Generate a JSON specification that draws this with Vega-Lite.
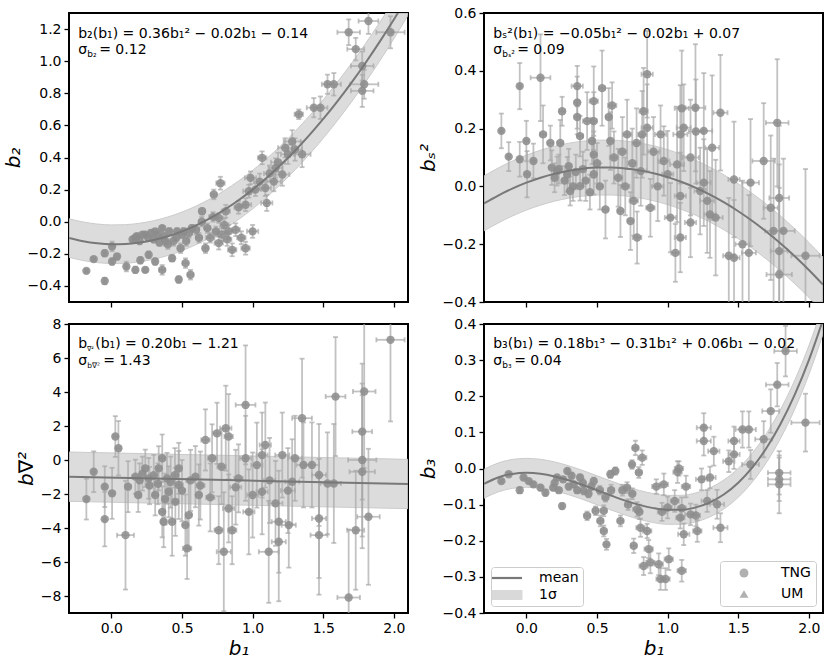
{
"$schema": "https://vega.github.io/schema/vega-lite/v6.json",
"padding": {"left": 2, "top": 5, "right": 5, "bottom": 5},
"columns": 2,
"spacing": {"row": 22, "column": 76},
"bounds": "flush",
"resolve": {"scale": {"color": "independent", "shape": "independent"}},
"config": {
  "font": "DejaVu Sans",
  "view": {"stroke": "black", "strokeWidth": 2},
  "axis": {"grid": false, "domain": false, "tickColor": "black", "tickSize": 5, "tickWidth": 1.3, "labelFont": "DejaVu Sans", "labelFontSize": 14, "labelColor": "black", "labelPadding": 3, "labelFlush": false, "labelOverlap": false, "labelBound": false, "titleFont": "DejaVu Sans", "titleFontSize": 20, "titleFontWeight": "normal", "titleFontStyle": "italic", "titleColor": "black", "titlePadding": 4}
},
"concat": [
{
 "width": 339, "height": 289,
 "layer": [
  {"data": {"name": "tl"},
   "encoding": {
    "x": {"field": "x", "type": "quantitative", "scale": {"domain": [-0.3, 2.1], "nice": false, "zero": false}, "axis": {"values": [0, 0.5, 1, 1.5, 2], "labels": false, "title": null}},
    "y": {"field": "y", "type": "quantitative", "scale": {"domain": [-0.5, 1.3], "nice": false, "zero": false}, "axis": {"values": [-0.4, -0.2, 0, 0.2, 0.4, 0.6, 0.8, 1.0, 1.2], "format": ".1f", "title": "b₂"}}},
   "layer": [
    {"data": {"name": "ctl"}, "mark": {"type": "area", "color": "#d9d9d9", "opacity": 0.9, "stroke": "#c6c6c6", "strokeWidth": 1, "clip": true, "interpolate": "monotone"}, "encoding": {"y": {"field": "lo", "type": "quantitative"}, "y2": {"field": "hi"}}},
    {"mark": {"type": "errorbar", "ticks": true, "size": 5, "thickness": 1.8, "color": "#a8a8a8", "opacity": 0.7, "clip": true}, "encoding": {"yError": {"field": "ey"}}},
    {"mark": {"type": "errorbar", "ticks": true, "size": 5, "thickness": 1.8, "color": "#a8a8a8", "opacity": 0.7, "clip": true}, "encoding": {"xError": {"field": "ex"}}},
    {"mark": {"type": "point", "filled": true, "color": "#8c8c8c", "opacity": 0.85, "size": 70, "clip": true}},
    {"data": {"name": "ctl"}, "mark": {"type": "line", "color": "#787878", "strokeWidth": 2, "clip": true, "interpolate": "monotone"}}
   ]},
  {"data": {"name": "ntl"},
   "encoding": {
    "x": {"datum": -0.235, "type": "quantitative", "scale": {"domain": [-0.3, 2.1], "nice": false, "zero": false}, "axis": {"values": [0, 0.5, 1, 1.5, 2], "labels": false, "title": null}},
    "y": {"datum": 1.146, "type": "quantitative", "scale": {"domain": [-0.5, 1.3], "nice": false, "zero": false}, "axis": {"values": [-0.4, -0.2, 0, 0.2, 0.4, 0.6, 0.8, 1.0, 1.2], "format": ".1f", "title": "b₂"}}},
   "layer": [
    {"mark": {"type": "text", "font": "DejaVu Sans", "align": "left", "baseline": "alphabetic", "fontSize": 14, "color": "black"}, "encoding": {"text": {"field": "eq"}}},
    {"mark": {"type": "text", "font": "DejaVu Sans", "align": "left", "baseline": "alphabetic", "fontSize": 14, "color": "black"}, "encoding": {"y": {"datum": 1.043}, "text": {"field": "sig"}}},
    {"mark": {"type": "text", "font": "DejaVu Sans", "align": "left", "baseline": "alphabetic", "fontSize": 9, "dx": 9, "dy": 3, "color": "black"}, "encoding": {"y": {"datum": 1.043}, "text": {"field": "sub"}}},
    {"mark": {"type": "text", "font": "DejaVu Sans", "align": "left", "baseline": "alphabetic", "fontSize": 14, "dx": 21, "color": "black"}, "encoding": {"y": {"datum": 1.043}, "text": {"field": "val"}}}
   ]}
 ]
},
{
 "width": 339, "height": 289,
 "layer": [
  {"data": {"name": "tr"},
   "encoding": {
    "x": {"field": "x", "type": "quantitative", "scale": {"domain": [-0.3, 2.1], "nice": false, "zero": false}, "axis": {"values": [0, 0.5, 1, 1.5, 2], "labels": false, "title": null}},
    "y": {"field": "y", "type": "quantitative", "scale": {"domain": [-0.4, 0.6], "nice": false, "zero": false}, "axis": {"values": [-0.4, -0.2, 0, 0.2, 0.4, 0.6], "format": ".1f", "title": "bₛ²"}}},
   "layer": [
    {"data": {"name": "ctr"}, "mark": {"type": "area", "color": "#d9d9d9", "opacity": 0.9, "stroke": "#c6c6c6", "strokeWidth": 1, "clip": true, "interpolate": "monotone"}, "encoding": {"y": {"field": "lo", "type": "quantitative"}, "y2": {"field": "hi"}}},
    {"mark": {"type": "errorbar", "ticks": true, "size": 5, "thickness": 1.8, "color": "#a8a8a8", "opacity": 0.7, "clip": true}, "encoding": {"yError": {"field": "ey"}}},
    {"mark": {"type": "errorbar", "ticks": true, "size": 5, "thickness": 1.8, "color": "#a8a8a8", "opacity": 0.7, "clip": true}, "encoding": {"xError": {"field": "ex"}}},
    {"mark": {"type": "point", "filled": true, "color": "#8c8c8c", "opacity": 0.85, "size": 70, "clip": true}},
    {"data": {"name": "ctr"}, "mark": {"type": "line", "color": "#787878", "strokeWidth": 2, "clip": true, "interpolate": "monotone"}}
   ]},
  {"data": {"name": "ntr"},
   "encoding": {
    "x": {"datum": -0.235, "type": "quantitative", "scale": {"domain": [-0.3, 2.1], "nice": false, "zero": false}, "axis": {"values": [0, 0.5, 1, 1.5, 2], "labels": false, "title": null}},
    "y": {"datum": 0.5145, "type": "quantitative", "scale": {"domain": [-0.4, 0.6], "nice": false, "zero": false}, "axis": {"values": [-0.4, -0.2, 0, 0.2, 0.4, 0.6], "format": ".1f", "title": "bₛ²"}}},
   "layer": [
    {"mark": {"type": "text", "font": "DejaVu Sans", "align": "left", "baseline": "alphabetic", "fontSize": 14, "color": "black"}, "encoding": {"text": {"field": "eq"}}},
    {"mark": {"type": "text", "font": "DejaVu Sans", "align": "left", "baseline": "alphabetic", "fontSize": 14, "color": "black"}, "encoding": {"y": {"datum": 0.457}, "text": {"field": "sig"}}},
    {"mark": {"type": "text", "font": "DejaVu Sans", "align": "left", "baseline": "alphabetic", "fontSize": 9, "dx": 9, "dy": 3, "color": "black"}, "encoding": {"y": {"datum": 0.457}, "text": {"field": "sub"}}},
    {"mark": {"type": "text", "font": "DejaVu Sans", "align": "left", "baseline": "alphabetic", "fontSize": 14, "dx": 24, "color": "black"}, "encoding": {"y": {"datum": 0.457}, "text": {"field": "val"}}}
   ]}
 ]
},
{
 "width": 339, "height": 289,
 "layer": [
  {"data": {"name": "bl"},
   "encoding": {
    "x": {"field": "x", "type": "quantitative", "scale": {"domain": [-0.3, 2.1], "nice": false, "zero": false}, "axis": {"values": [0, 0.5, 1, 1.5, 2], "format": ".1f", "title": "b₁", "titlePadding": 3}},
    "y": {"field": "y", "type": "quantitative", "scale": {"domain": [-9, 8], "nice": false, "zero": false}, "axis": {"values": [-8, -6, -4, -2, 0, 2, 4, 6, 8], "format": "d", "title": "b∇²"}}},
   "layer": [
    {"data": {"name": "cbl"}, "mark": {"type": "area", "color": "#d9d9d9", "opacity": 0.9, "stroke": "#c6c6c6", "strokeWidth": 1, "clip": true}, "encoding": {"y": {"field": "lo", "type": "quantitative"}, "y2": {"field": "hi"}}},
    {"mark": {"type": "errorbar", "ticks": true, "size": 5, "thickness": 1.8, "color": "#a8a8a8", "opacity": 0.7, "clip": true}, "encoding": {"yError": {"field": "ey"}}},
    {"mark": {"type": "errorbar", "ticks": true, "size": 5, "thickness": 1.8, "color": "#a8a8a8", "opacity": 0.7, "clip": true}, "encoding": {"xError": {"field": "ex"}}},
    {"mark": {"type": "point", "filled": true, "color": "#8c8c8c", "opacity": 0.85, "size": 70, "clip": true}},
    {"data": {"name": "cbl"}, "mark": {"type": "line", "color": "#787878", "strokeWidth": 2, "clip": true}}
   ]},
  {"data": {"name": "nbl"},
   "encoding": {
    "x": {"datum": -0.235, "type": "quantitative", "scale": {"domain": [-0.3, 2.1], "nice": false, "zero": false}, "axis": {"values": [0, 0.5, 1, 1.5, 2], "format": ".1f", "title": "b₁", "titlePadding": 3}},
    "y": {"datum": 6.566, "type": "quantitative", "scale": {"domain": [-9, 8], "nice": false, "zero": false}, "axis": {"values": [-8, -6, -4, -2, 0, 2, 4, 6, 8], "format": "d", "title": "b∇²"}}},
   "layer": [
    {"mark": {"type": "text", "font": "DejaVu Sans", "align": "left", "baseline": "alphabetic", "fontSize": 14, "color": "black"}, "encoding": {"text": {"field": "b"}}},
    {"mark": {"type": "text", "font": "DejaVu Sans", "align": "left", "baseline": "alphabetic", "fontSize": 6.5, "dx": 8.8, "dy": 3, "color": "black"}, "encoding": {"text": {"field": "bsub"}}},
    {"mark": {"type": "text", "font": "DejaVu Sans", "align": "left", "baseline": "alphabetic", "fontSize": 14, "dx": 17, "color": "black"}, "encoding": {"text": {"field": "eq"}}},
    {"mark": {"type": "text", "font": "DejaVu Sans", "align": "left", "baseline": "alphabetic", "fontSize": 14, "color": "black"}, "encoding": {"y": {"datum": 5.58}, "text": {"field": "sig"}}},
    {"mark": {"type": "text", "font": "DejaVu Sans", "align": "left", "baseline": "alphabetic", "fontSize": 7.5, "dx": 9, "dy": 3, "color": "black"}, "encoding": {"y": {"datum": 5.58}, "text": {"field": "sub"}}},
    {"mark": {"type": "text", "font": "DejaVu Sans", "align": "left", "baseline": "alphabetic", "fontSize": 14, "dx": 25, "color": "black"}, "encoding": {"y": {"datum": 5.58}, "text": {"field": "val"}}}
   ]}
 ]
},
{
 "width": 339, "height": 289,
 "layer": [
  {"data": {"name": "br"},
   "encoding": {
    "x": {"field": "x", "type": "quantitative", "scale": {"domain": [-0.3, 2.1], "nice": false, "zero": false}, "axis": {"values": [0, 0.5, 1, 1.5, 2], "format": ".1f", "title": "b₁", "titlePadding": 3}},
    "y": {"field": "y", "type": "quantitative", "scale": {"domain": [-0.4, 0.4], "nice": false, "zero": false}, "axis": {"values": [-0.4, -0.3, -0.2, -0.1, 0, 0.1, 0.2, 0.3, 0.4], "format": ".1f", "title": "b₃"}}},
   "layer": [
    {"data": {"name": "cbr"}, "mark": {"type": "area", "opacity": 0.9, "stroke": "#c6c6c6", "strokeWidth": 1, "clip": true, "interpolate": "monotone"},
     "encoding": {"y": {"field": "lo", "type": "quantitative"}, "y2": {"field": "hi"},
      "color": {"datum": "1σ", "type": "nominal", "scale": {"domain": ["mean", "1σ"], "range": ["#787878", "#d9d9d9"]},
        "legend": {"orient": "bottom-left", "title": null, "offset": 7, "padding": 4, "strokeColor": "#cccccc", "fillColor": "rgba(255,255,255,0.8)", "cornerRadius": 3, "symbolSize": 324, "symbolOffset": 5, "labelOffset": 25, "rowPadding": 3, "labelFontSize": 14, "labelFont": "DejaVu Sans", "labelColor": "black",
          "encoding": {"symbols": {
            "shape": {"value": {"expr": "datum.value === 'mean' ? 'M-1.667,0H1.667' : 'M-1.667,-0.5H1.667V0.5H-1.667Z'"}},
            "fill": {"value": {"expr": "datum.value === 'mean' ? 'transparent' : '#d9d9d9'"}},
            "stroke": {"value": {"expr": "datum.value === 'mean' ? '#787878' : '#c6c6c6'"}},
            "strokeWidth": {"value": {"expr": "datum.value === 'mean' ? 2.2 : 1"}},
            "opacity": {"value": 1}}}}}}},
    {"mark": {"type": "errorbar", "ticks": true, "size": 5, "thickness": 1.8, "color": "#a8a8a8", "opacity": 0.7, "clip": true}, "encoding": {"yError": {"field": "ey"}}},
    {"mark": {"type": "errorbar", "ticks": true, "size": 5, "thickness": 1.8, "color": "#a8a8a8", "opacity": 0.7, "clip": true}, "encoding": {"xError": {"field": "ex"}}},
    {"mark": {"type": "point", "filled": true, "color": "#8c8c8c", "opacity": 0.85, "size": 70, "clip": true},
     "encoding": {"shape": {"datum": "TNG", "type": "nominal", "scale": {"domain": ["TNG", "UM"], "range": ["circle", "triangle-up"]},
       "legend": {"orient": "bottom-right", "title": null, "offset": 7, "padding": 5, "strokeColor": "#cccccc", "fillColor": "rgba(255,255,255,0.8)", "cornerRadius": 3, "symbolSize": 80, "symbolOffset": 12, "labelOffset": 30, "rowPadding": 7, "labelFontSize": 14, "labelFont": "DejaVu Sans", "labelColor": "black",
         "encoding": {"symbols": {"fill": {"value": "#b0b0b0"}, "stroke": {"value": "#b0b0b0"}, "strokeWidth": {"value": 0}, "opacity": {"value": 1}}}}}}},
    {"data": {"name": "cbr"}, "mark": {"type": "line", "strokeWidth": 2, "clip": true, "interpolate": "monotone"}, "encoding": {"color": {"datum": "mean", "type": "nominal"}}}
   ]},
  {"data": {"name": "nbr"},
   "encoding": {
    "x": {"datum": -0.235, "type": "quantitative", "scale": {"domain": [-0.3, 2.1], "nice": false, "zero": false}, "axis": {"values": [0, 0.5, 1, 1.5, 2], "format": ".1f", "title": "b₁", "titlePadding": 3}},
    "y": {"datum": 0.3325, "type": "quantitative", "scale": {"domain": [-0.4, 0.4], "nice": false, "zero": false}, "axis": {"values": [-0.4, -0.3, -0.2, -0.1, 0, 0.1, 0.2, 0.3, 0.4], "format": ".1f", "title": "b₃"}}},
   "layer": [
    {"mark": {"type": "text", "font": "DejaVu Sans", "align": "left", "baseline": "alphabetic", "fontSize": 14, "color": "black"}, "encoding": {"text": {"field": "eq"}}},
    {"mark": {"type": "text", "font": "DejaVu Sans", "align": "left", "baseline": "alphabetic", "fontSize": 14, "color": "black"}, "encoding": {"y": {"datum": 0.286}, "text": {"field": "sig"}}},
    {"mark": {"type": "text", "font": "DejaVu Sans", "align": "left", "baseline": "alphabetic", "fontSize": 9, "dx": 9, "dy": 3, "color": "black"}, "encoding": {"y": {"datum": 0.286}, "text": {"field": "sub"}}},
    {"mark": {"type": "text", "font": "DejaVu Sans", "align": "left", "baseline": "alphabetic", "fontSize": 14, "dx": 21, "color": "black"}, "encoding": {"y": {"datum": 0.286}, "text": {"field": "val"}}}
   ]}
 ]
}
],
"datasets": {
"ntl": [{"eq": "b₂(b₁) = 0.36b₁² − 0.02b₁ − 0.14", "sig": "σ", "sub": "b₂", "val": "= 0.12"}],
"ntr": [{"eq": "bₛ²(b₁) = −0.05b₁² − 0.02b₁ + 0.07", "sig": "σ", "sub": "bₛ²", "val": "= 0.09"}],
"nbl": [{"b": "b", "bsub": "∇²", "eq": "(b₁) = 0.20b₁ − 1.21", "sig": "σ", "sub": "b∇²", "val": "= 1.43"}],
"nbr": [{"eq": "b₃(b₁) = 0.18b₁³ − 0.31b₁² + 0.06b₁ − 0.02", "sig": "σ", "sub": "b₃", "val": "= 0.04"}],
"ctl": [
{"x":-0.3,"y":-0.1016,"lo":-0.2216,"hi":0.0184},{"x":-0.2,"y":-0.1216,"lo":-0.2416,"hi":-0.0016},{"x":-0.1,"y":-0.1344,"lo":-0.2544,"hi":-0.0144},{"x":0.0,"y":-0.14,"lo":-0.26,"hi":-0.02},{"x":0.1,"y":-0.1384,"lo":-0.2584,"hi":-0.0184},{"x":0.2,"y":-0.1296,"lo":-0.2496,"hi":-0.0096},{"x":0.3,"y":-0.1136,"lo":-0.2336,"hi":0.0064},{"x":0.4,"y":-0.0904,"lo":-0.2104,"hi":0.0296},{"x":0.5,"y":-0.06,"lo":-0.18,"hi":0.06},{"x":0.6,"y":-0.0224,"lo":-0.1424,"hi":0.0976},{"x":0.7,"y":0.0224,"lo":-0.0976,"hi":0.1424},{"x":0.8,"y":0.0744,"lo":-0.0456,"hi":0.1944},{"x":0.9,"y":0.1336,"lo":0.0136,"hi":0.2536},{"x":1.0,"y":0.2,"lo":0.08,"hi":0.32},{"x":1.1,"y":0.2736,"lo":0.1536,"hi":0.3936},{"x":1.2,"y":0.3544,"lo":0.2344,"hi":0.4744},{"x":1.3,"y":0.4424,"lo":0.3224,"hi":0.5624},{"x":1.4,"y":0.5376,"lo":0.4176,"hi":0.6576},{"x":1.5,"y":0.64,"lo":0.52,"hi":0.76},{"x":1.6,"y":0.7496,"lo":0.6296,"hi":0.8696},{"x":1.7,"y":0.8664,"lo":0.7464,"hi":0.9864},{"x":1.8,"y":0.9904,"lo":0.8704,"hi":1.1104},{"x":1.9,"y":1.1216,"lo":1.0016,"hi":1.2416},{"x":2.0,"y":1.26,"lo":1.14,"hi":1.38},{"x":2.1,"y":1.4056,"lo":1.2856,"hi":1.5256}
],
"ctr": [
{"x":-0.3,"y":-0.059,"lo":-0.154,"hi":0.036},{"x":-0.2,"y":-0.0316,"lo":-0.1266,"hi":0.0634},{"x":-0.1,"y":-0.0076,"lo":-0.1026,"hi":0.0874},{"x":0.0,"y":0.013,"lo":-0.082,"hi":0.108},{"x":0.1,"y":0.0302,"lo":-0.0648,"hi":0.1252},{"x":0.2,"y":0.044,"lo":-0.051,"hi":0.139},{"x":0.3,"y":0.0544,"lo":-0.0406,"hi":0.1494},{"x":0.4,"y":0.0614,"lo":-0.0336,"hi":0.1564},{"x":0.5,"y":0.065,"lo":-0.03,"hi":0.16},{"x":0.6,"y":0.0652,"lo":-0.0298,"hi":0.1602},{"x":0.7,"y":0.062,"lo":-0.033,"hi":0.157},{"x":0.8,"y":0.0554,"lo":-0.0396,"hi":0.1504},{"x":0.9,"y":0.0454,"lo":-0.0496,"hi":0.1404},{"x":1.0,"y":0.032,"lo":-0.063,"hi":0.127},{"x":1.1,"y":0.0152,"lo":-0.0798,"hi":0.1102},{"x":1.2,"y":-0.005,"lo":-0.1,"hi":0.09},{"x":1.3,"y":-0.0286,"lo":-0.1236,"hi":0.0664},{"x":1.4,"y":-0.0556,"lo":-0.1506,"hi":0.0394},{"x":1.5,"y":-0.086,"lo":-0.181,"hi":0.009},{"x":1.6,"y":-0.1198,"lo":-0.2148,"hi":-0.0248},{"x":1.7,"y":-0.157,"lo":-0.252,"hi":-0.062},{"x":1.8,"y":-0.1976,"lo":-0.2926,"hi":-0.1026},{"x":1.9,"y":-0.2416,"lo":-0.3366,"hi":-0.1466},{"x":2.0,"y":-0.289,"lo":-0.384,"hi":-0.194},{"x":2.1,"y":-0.3398,"lo":-0.4348,"hi":-0.2448}
],
"cbl": [
{"x":-0.3,"y":-0.98,"lo":-2.43,"hi":0.47},{"x":0.3,"y":-1.088,"lo":-2.538,"hi":0.362},{"x":0.9,"y":-1.196,"lo":-2.646,"hi":0.254},{"x":1.5,"y":-1.304,"lo":-2.754,"hi":0.146},{"x":2.1,"y":-1.412,"lo":-2.862,"hi":0.038}
],
"cbr": [
{"x":-0.3,"y":-0.0423,"lo":-0.0823,"hi":-0.0023},{"x":-0.2,"y":-0.0248,"lo":-0.0648,"hi":0.0152},{"x":-0.1,"y":-0.015,"lo":-0.055,"hi":0.025},{"x":0.0,"y":-0.012,"lo":-0.052,"hi":0.028},{"x":0.1,"y":-0.0146,"lo":-0.0546,"hi":0.0254},{"x":0.2,"y":-0.0219,"lo":-0.0619,"hi":0.0181},{"x":0.3,"y":-0.0326,"lo":-0.0726,"hi":0.0074},{"x":0.4,"y":-0.0457,"lo":-0.0857,"hi":-0.0057},{"x":0.5,"y":-0.0602,"lo":-0.1002,"hi":-0.0202},{"x":0.6,"y":-0.0749,"lo":-0.1149,"hi":-0.0349},{"x":0.7,"y":-0.0888,"lo":-0.1288,"hi":-0.0488},{"x":0.8,"y":-0.1007,"lo":-0.1407,"hi":-0.0607},{"x":0.9,"y":-0.1097,"lo":-0.1497,"hi":-0.0697},{"x":1.0,"y":-0.1145,"lo":-0.1545,"hi":-0.0745},{"x":1.1,"y":-0.1142,"lo":-0.1542,"hi":-0.0742},{"x":1.2,"y":-0.1076,"lo":-0.1476,"hi":-0.0676},{"x":1.3,"y":-0.0937,"lo":-0.1337,"hi":-0.0537},{"x":1.4,"y":-0.0714,"lo":-0.1114,"hi":-0.0314},{"x":1.5,"y":-0.0396,"lo":-0.0796,"hi":0.0004},{"x":1.6,"y":0.0029,"lo":-0.0371,"hi":0.0429},{"x":1.7,"y":0.0569,"lo":0.0169,"hi":0.0969},{"x":1.8,"y":0.1238,"lo":0.0838,"hi":0.1638},{"x":1.9,"y":0.2044,"lo":0.1644,"hi":0.2444},{"x":2.0,"y":0.3,"lo":0.26,"hi":0.34},{"x":2.1,"y":0.4116,"lo":0.3716,"hi":0.4516}
],
"tl": [
{"x":-0.177,"ex":0.01,"y":-0.306,"ey":0.01},{"x":-0.125,"ex":0.01,"y":-0.233,"ey":0.01},{"x":-0.047,"ex":0.01,"y":-0.369,"ey":0.02},{"x":-0.047,"ex":0.01,"y":-0.196,"ey":0.02},{"x":0.005,"ex":0.015,"y":-0.154,"ey":0.03},{"x":0.005,"ex":0.01,"y":-0.248,"ey":0.02},{"x":0.04,"ex":0.015,"y":-0.217,"ey":0.02},{"x":0.106,"ex":0.01,"y":-0.279,"ey":0.03},{"x":0.17,"ex":0.015,"y":-0.3,"ey":0.02},{"x":0.17,"ex":0.015,"y":-0.1,"ey":0.015},{"x":0.205,"ex":0.01,"y":-0.24,"ey":0.02},{"x":0.24,"ex":0.015,"y":-0.3,"ey":0.015},{"x":0.264,"ex":0.01,"y":-0.206,"ey":0.02},{"x":0.31,"ex":0.015,"y":-0.248,"ey":0.02},{"x":0.36,"ex":0.02,"y":-0.3,"ey":0.03},{"x":0.24,"ex":0.01,"y":-0.08,"ey":0.015},{"x":0.31,"ex":0.015,"y":-0.06,"ey":0.015},{"x":0.36,"ex":0.015,"y":-0.04,"ey":0.015},{"x":0.38,"ex":0.02,"y":-0.12,"ey":0.03},{"x":0.43,"ex":0.015,"y":-0.227,"ey":0.02},{"x":0.477,"ex":0.015,"y":-0.36,"ey":0.02},{"x":0.49,"ex":0.02,"y":-0.165,"ey":0.03},{"x":0.525,"ex":0.02,"y":-0.258,"ey":0.03},{"x":0.56,"ex":0.02,"y":-0.33,"ey":0.03},{"x":0.465,"ex":0.015,"y":-0.06,"ey":0.02},{"x":0.512,"ex":0.015,"y":-0.06,"ey":0.02},{"x":0.57,"ex":0.02,"y":-0.04,"ey":0.02},{"x":0.642,"ex":0.02,"y":0.065,"ey":0.02},{"x":0.666,"ex":0.02,"y":-0.165,"ey":0.03},{"x":0.725,"ex":0.02,"y":0.17,"ey":0.03},{"x":0.772,"ex":0.03,"y":0.24,"ey":0.04},{"x":0.81,"ex":0.03,"y":0.065,"ey":0.04},{"x":0.76,"ex":0.03,"y":0.023,"ey":0.03},{"x":0.76,"ex":0.03,"y":-0.133,"ey":0.04},{"x":0.83,"ex":0.03,"y":-0.06,"ey":0.04},{"x":0.855,"ex":0.03,"y":-0.175,"ey":0.04},{"x":0.95,"ex":0.03,"y":-0.165,"ey":0.04},{"x":1.0,"ex":0.04,"y":-0.06,"ey":0.04},{"x":0.95,"ex":0.04,"y":0.106,"ey":0.04},{"x":0.985,"ex":0.04,"y":0.273,"ey":0.04},{"x":0.973,"ex":0.04,"y":0.19,"ey":0.04},{"x":1.067,"ex":0.03,"y":0.398,"ey":0.04},{"x":1.09,"ex":0.04,"y":0.21,"ey":0.05},{"x":1.1,"ex":0.04,"y":0.117,"ey":0.05},{"x":1.162,"ex":0.05,"y":0.335,"ey":0.06},{"x":1.21,"ex":0.05,"y":0.294,"ey":0.07},{"x":1.23,"ex":0.05,"y":0.46,"ey":0.06},{"x":1.28,"ex":0.06,"y":0.5,"ey":0.07},{"x":1.327,"ex":0.03,"y":0.669,"ey":0.03},{"x":1.35,"ex":0.06,"y":0.42,"ey":0.08},{"x":1.433,"ex":0.05,"y":0.71,"ey":0.06},{"x":1.48,"ex":0.05,"y":0.71,"ey":0.07},{"x":1.53,"ex":0.04,"y":0.856,"ey":0.06},{"x":1.575,"ex":0.05,"y":0.856,"ey":0.07},{"x":1.68,"ex":0.08,"y":1.18,"ey":0.08},{"x":1.73,"ex":0.06,"y":1.075,"ey":0.07},{"x":1.82,"ex":0.07,"y":1.25,"ey":0.08},{"x":1.776,"ex":0.08,"y":0.97,"ey":0.09},{"x":1.79,"ex":0.1,"y":0.856,"ey":0.09},{"x":1.776,"ex":0.08,"y":0.815,"ey":0.1},{"x":1.976,"ex":0.1,"y":1.18,"ey":0.1},
{"x":0.15,"ex":0.01,"y":-0.11,"ey":0.015},{"x":0.18,"ex":0.01,"y":-0.09,"ey":0.015},{"x":0.2,"ex":0.015,"y":-0.12,"ey":0.02},{"x":0.22,"ex":0.01,"y":-0.08,"ey":0.015},{"x":0.26,"ex":0.015,"y":-0.1,"ey":0.02},{"x":0.28,"ex":0.01,"y":-0.07,"ey":0.015},{"x":0.3,"ex":0.015,"y":-0.11,"ey":0.02},{"x":0.33,"ex":0.01,"y":-0.08,"ey":0.015},{"x":0.34,"ex":0.015,"y":-0.13,"ey":0.02},{"x":0.37,"ex":0.015,"y":-0.09,"ey":0.02},{"x":0.4,"ex":0.02,"y":-0.14,"ey":0.03},{"x":0.41,"ex":0.015,"y":-0.06,"ey":0.02},{"x":0.44,"ex":0.02,"y":-0.12,"ey":0.03},{"x":0.46,"ex":0.015,"y":-0.1,"ey":0.02},{"x":0.5,"ex":0.02,"y":-0.08,"ey":0.02},{"x":0.53,"ex":0.02,"y":-0.12,"ey":0.03},{"x":0.55,"ex":0.02,"y":-0.07,"ey":0.03},{"x":0.6,"ex":0.02,"y":-0.05,"ey":0.03},{"x":0.62,"ex":0.02,"y":-0.1,"ey":0.03},{"x":0.64,"ex":0.02,"y":0.0,"ey":0.03},{"x":0.68,"ex":0.02,"y":-0.04,"ey":0.03},{"x":0.7,"ex":0.03,"y":-0.1,"ey":0.03},{"x":0.72,"ex":0.03,"y":0.03,"ey":0.03},{"x":0.74,"ex":0.02,"y":-0.06,"ey":0.03},{"x":0.78,"ex":0.03,"y":-0.08,"ey":0.04},{"x":0.8,"ex":0.03,"y":-0.02,"ey":0.04},{"x":0.82,"ex":0.03,"y":-0.11,"ey":0.04},{"x":0.88,"ex":0.03,"y":-0.05,"ey":0.04},{"x":0.9,"ex":0.03,"y":0.09,"ey":0.04},{"x":0.92,"ex":0.03,"y":-0.1,"ey":0.04},{"x":1.02,"ex":0.04,"y":0.2,"ey":0.04},{"x":1.05,"ex":0.04,"y":0.25,"ey":0.05},{"x":1.12,"ex":0.04,"y":0.3,"ey":0.05},{"x":1.15,"ex":0.05,"y":0.25,"ey":0.06},{"x":1.18,"ex":0.05,"y":0.37,"ey":0.06},{"x":1.25,"ex":0.05,"y":0.42,"ey":0.06},{"x":1.3,"ex":0.05,"y":0.45,"ey":0.07}
],
"tr": [
{"x":-0.177,"ex":0.01,"y":0.192,"ey":0.06},{"x":-0.125,"ex":0.01,"y":0.103,"ey":0.05},{"x":-0.047,"ex":0.01,"y":0.347,"ey":0.08},{"x":-0.047,"ex":0.01,"y":0.094,"ey":0.06},{"x":0.0,"ex":0.015,"y":0.157,"ey":0.07},{"x":0.005,"ex":0.015,"y":0.042,"ey":0.08},{"x":0.05,"ex":0.015,"y":0.088,"ey":0.06},{"x":0.1,"ex":0.07,"y":0.376,"ey":0.15},{"x":0.118,"ex":0.02,"y":0.18,"ey":0.1},{"x":0.17,"ex":0.02,"y":0.15,"ey":0.06},{"x":0.18,"ex":0.02,"y":0.065,"ey":0.06},{"x":0.24,"ex":0.02,"y":0.15,"ey":0.08},{"x":0.253,"ex":0.02,"y":0.26,"ey":0.05},{"x":0.217,"ex":0.02,"y":0.053,"ey":0.05},{"x":0.29,"ex":0.02,"y":0.042,"ey":0.06},{"x":0.31,"ex":0.02,"y":-0.016,"ey":0.05},{"x":0.36,"ex":0.04,"y":0.347,"ey":0.07},{"x":0.36,"ex":0.02,"y":0.29,"ey":0.09},{"x":0.36,"ex":0.02,"y":0.24,"ey":0.06},{"x":0.38,"ex":0.02,"y":0.174,"ey":0.07},{"x":0.43,"ex":0.03,"y":0.226,"ey":0.1},{"x":0.477,"ex":0.03,"y":0.295,"ey":0.12},{"x":0.477,"ex":0.02,"y":0.226,"ey":0.1},{"x":0.465,"ex":0.02,"y":0.157,"ey":0.08},{"x":0.477,"ex":0.02,"y":0.11,"ey":0.08},{"x":0.38,"ex":0.02,"y":0.001,"ey":0.05},{"x":0.477,"ex":0.02,"y":0.042,"ey":0.07},{"x":0.536,"ex":0.02,"y":0.34,"ey":0.13},{"x":0.56,"ex":0.02,"y":-0.08,"ey":0.1},{"x":0.583,"ex":0.02,"y":0.24,"ey":0.1},{"x":0.607,"ex":0.03,"y":0.28,"ey":0.08},{"x":0.595,"ex":0.02,"y":0.157,"ey":0.1},{"x":0.666,"ex":0.02,"y":-0.085,"ey":0.09},{"x":0.713,"ex":0.03,"y":0.18,"ey":0.12},{"x":0.737,"ex":0.02,"y":-0.12,"ey":0.1},{"x":0.76,"ex":0.03,"y":-0.05,"ey":0.12},{"x":0.784,"ex":0.03,"y":-0.177,"ey":0.09},{"x":0.82,"ex":0.03,"y":0.18,"ey":0.15},{"x":0.83,"ex":0.03,"y":0.26,"ey":0.15},{"x":0.855,"ex":0.04,"y":0.388,"ey":0.15},{"x":0.855,"ex":0.04,"y":0.203,"ey":0.15},{"x":0.81,"ex":0.04,"y":0.053,"ey":0.12},{"x":0.878,"ex":0.03,"y":-0.074,"ey":0.1},{"x":0.95,"ex":0.04,"y":0.18,"ey":0.1},{"x":0.973,"ex":0.04,"y":0.088,"ey":0.12},{"x":1.0,"ex":0.04,"y":0.042,"ey":0.15},{"x":1.02,"ex":0.04,"y":-0.108,"ey":0.12},{"x":1.055,"ex":0.03,"y":-0.23,"ey":0.1},{"x":1.067,"ex":0.05,"y":0.076,"ey":0.2},{"x":1.09,"ex":0.05,"y":0.18,"ey":0.17},{"x":1.09,"ex":0.04,"y":-0.033,"ey":0.15},{"x":1.09,"ex":0.04,"y":-0.177,"ey":0.12},{"x":1.114,"ex":0.05,"y":0.203,"ey":0.15},{"x":1.162,"ex":0.06,"y":0.1,"ey":0.2},{"x":1.162,"ex":0.04,"y":-0.125,"ey":0.12},{"x":1.197,"ex":0.07,"y":0.272,"ey":0.22},{"x":1.23,"ex":0.04,"y":-0.016,"ey":0.15},{"x":1.256,"ex":0.06,"y":0.192,"ey":0.2},{"x":1.256,"ex":0.05,"y":0.013,"ey":0.15},{"x":1.315,"ex":0.05,"y":0.134,"ey":0.25},{"x":1.3,"ex":0.04,"y":-0.097,"ey":0.15},{"x":1.34,"ex":0.05,"y":-0.108,"ey":0.2},{"x":1.374,"ex":0.05,"y":0.255,"ey":0.2},{"x":1.47,"ex":0.04,"y":0.024,"ey":0.2},{"x":1.433,"ex":0.04,"y":-0.24,"ey":0.2},{"x":1.47,"ex":0.04,"y":-0.247,"ey":0.2},{"x":1.53,"ex":0.05,"y":-0.2,"ey":0.22},{"x":1.575,"ex":0.05,"y":-0.23,"ey":0.2},{"x":1.587,"ex":0.06,"y":0.013,"ey":0.22},{"x":1.68,"ex":0.08,"y":0.088,"ey":0.2},{"x":1.73,"ex":0.05,"y":-0.074,"ey":0.25},{"x":1.776,"ex":0.08,"y":0.22,"ey":0.22},{"x":1.79,"ex":0.07,"y":-0.04,"ey":0.25},{"x":1.79,"ex":0.06,"y":-0.224,"ey":0.3},{"x":1.79,"ex":0.09,"y":-0.305,"ey":0.3},{"x":1.82,"ex":0.08,"y":-0.154,"ey":0.25},{"x":1.976,"ex":0.1,"y":-0.24,"ey":0.3},{"x":1.75,"ex":0.06,"y":-0.154,"ey":0.25},
{"x":0.2,"ex":0.015,"y":0.03,"ey":0.05},{"x":0.23,"ex":0.015,"y":0.06,"ey":0.05},{"x":0.27,"ex":0.015,"y":0.02,"ey":0.05},{"x":0.3,"ex":0.015,"y":0.07,"ey":0.06},{"x":0.33,"ex":0.015,"y":0.0,"ey":0.05},{"x":0.35,"ex":0.02,"y":0.05,"ey":0.06},{"x":0.4,"ex":0.02,"y":0.06,"ey":0.06},{"x":0.42,"ex":0.02,"y":0.02,"ey":0.07},{"x":0.45,"ex":0.02,"y":-0.02,"ey":0.06},{"x":0.5,"ex":0.02,"y":0.08,"ey":0.07},{"x":0.52,"ex":0.02,"y":0.0,"ey":0.08},{"x":0.62,"ex":0.03,"y":0.1,"ey":0.09},{"x":0.65,"ex":0.03,"y":0.03,"ey":0.1},{"x":0.68,"ex":0.03,"y":0.12,"ey":0.12},{"x":0.7,"ex":0.03,"y":0.0,"ey":0.1},{"x":0.75,"ex":0.03,"y":0.08,"ey":0.12},{"x":0.78,"ex":0.03,"y":0.15,"ey":0.12},{"x":0.9,"ex":0.04,"y":0.12,"ey":0.12},{"x":0.93,"ex":0.04,"y":0.0,"ey":0.12},{"x":1.1,"ex":0.05,"y":0.27,"ey":0.2},{"x":1.2,"ex":0.05,"y":0.19,"ey":0.18},{"x":1.28,"ex":0.05,"y":-0.05,"ey":0.18}
],
"bl": [
{"x":-0.177,"ex":0.01,"y":-2.3,"ey":1.2},{"x":-0.125,"ex":0.01,"y":-0.69,"ey":1.2},{"x":-0.047,"ex":0.01,"y":-1.57,"ey":1.2},{"x":-0.047,"ex":0.01,"y":-3.48,"ey":1.6},{"x":0.005,"ex":0.015,"y":-1.96,"ey":1.5},{"x":0.028,"ex":0.015,"y":1.38,"ey":1.2},{"x":0.05,"ex":0.015,"y":0.69,"ey":1.6},{"x":0.1,"ex":0.06,"y":-4.42,"ey":3.2},{"x":0.118,"ex":0.02,"y":-1.57,"ey":1.5},{"x":0.17,"ex":0.02,"y":-0.98,"ey":1.0},{"x":0.19,"ex":0.02,"y":-2.06,"ey":1.0},{"x":0.24,"ex":0.02,"y":-0.49,"ey":1.1},{"x":0.264,"ex":0.02,"y":-1.08,"ey":1.2},{"x":0.31,"ex":0.02,"y":-2.06,"ey":1.2},{"x":0.335,"ex":0.02,"y":-0.49,"ey":1.3},{"x":0.36,"ex":0.02,"y":0.1,"ey":1.4},{"x":0.36,"ex":0.02,"y":-3.05,"ey":1.5},{"x":0.37,"ex":0.02,"y":-3.63,"ey":1.5},{"x":0.394,"ex":0.02,"y":-1.08,"ey":1.5},{"x":0.406,"ex":0.02,"y":-1.87,"ey":1.5},{"x":0.43,"ex":0.02,"y":-3.63,"ey":2.0},{"x":0.453,"ex":0.02,"y":-2.46,"ey":2.0},{"x":0.477,"ex":0.03,"y":-1.47,"ey":2.0},{"x":0.477,"ex":0.02,"y":-0.49,"ey":1.5},{"x":0.524,"ex":0.02,"y":-3.83,"ey":1.8},{"x":0.536,"ex":0.03,"y":-5.2,"ey":1.8},{"x":0.548,"ex":0.02,"y":-3.24,"ey":2.0},{"x":0.595,"ex":0.02,"y":-0.98,"ey":1.8},{"x":0.619,"ex":0.02,"y":-2.06,"ey":1.8},{"x":0.666,"ex":0.03,"y":1.18,"ey":1.8},{"x":0.713,"ex":0.03,"y":0.1,"ey":2.0},{"x":0.748,"ex":0.03,"y":1.57,"ey":1.8},{"x":0.76,"ex":0.03,"y":-4.13,"ey":2.0},{"x":0.796,"ex":0.05,"y":-5.4,"ey":3.5},{"x":0.81,"ex":0.04,"y":1.87,"ey":2.5},{"x":0.83,"ex":0.03,"y":1.38,"ey":2.5},{"x":0.83,"ex":0.04,"y":-2.85,"ey":2.0},{"x":0.855,"ex":0.03,"y":-4.13,"ey":2.0},{"x":0.9,"ex":0.03,"y":-1.08,"ey":2.0},{"x":0.95,"ex":0.07,"y":3.24,"ey":3.5},{"x":0.95,"ex":0.04,"y":0.1,"ey":2.5},{"x":0.973,"ex":0.04,"y":-3.05,"ey":2.5},{"x":1.0,"ex":0.04,"y":-2.06,"ey":2.5},{"x":1.067,"ex":0.04,"y":0.29,"ey":2.5},{"x":1.09,"ex":0.04,"y":0.88,"ey":2.5},{"x":1.067,"ex":0.04,"y":-1.87,"ey":2.5},{"x":1.114,"ex":0.07,"y":-5.4,"ey":3.0},{"x":1.162,"ex":0.05,"y":-2.55,"ey":2.5},{"x":1.185,"ex":0.05,"y":-3.63,"ey":3.0},{"x":1.185,"ex":0.05,"y":-4.81,"ey":3.5},{"x":1.21,"ex":0.05,"y":0.29,"ey":2.5},{"x":1.256,"ex":0.05,"y":-3.83,"ey":2.5},{"x":1.28,"ex":0.05,"y":-1.28,"ey":2.5},{"x":1.3,"ex":0.05,"y":0.1,"ey":2.5},{"x":1.35,"ex":0.07,"y":2.46,"ey":3.5},{"x":1.36,"ex":0.05,"y":-0.29,"ey":2.5},{"x":1.42,"ex":0.05,"y":-0.29,"ey":2.5},{"x":1.47,"ex":0.05,"y":-0.88,"ey":3.0},{"x":1.47,"ex":0.05,"y":-3.44,"ey":3.5},{"x":1.47,"ex":0.06,"y":-4.42,"ey":3.5},{"x":1.53,"ex":0.05,"y":-1.38,"ey":3.0},{"x":1.575,"ex":0.05,"y":-1.38,"ey":3.5},{"x":1.587,"ex":0.07,"y":3.73,"ey":3.5},{"x":1.68,"ex":0.08,"y":-8.09,"ey":4.0},{"x":1.73,"ex":0.06,"y":-4.13,"ey":3.5},{"x":1.79,"ex":0.08,"y":4.03,"ey":4.5},{"x":1.776,"ex":0.07,"y":1.67,"ey":4.0},{"x":1.776,"ex":0.1,"y":0.0,"ey":4.5},{"x":1.776,"ex":0.09,"y":-0.69,"ey":4.5},{"x":1.82,"ex":0.08,"y":-3.34,"ey":4.0},{"x":1.976,"ex":0.1,"y":7.07,"ey":4.8},
{"x":0.2,"ex":0.015,"y":-1.2,"ey":1.0},{"x":0.22,"ex":0.02,"y":-0.8,"ey":1.0},{"x":0.27,"ex":0.02,"y":-1.5,"ey":1.1},{"x":0.3,"ex":0.02,"y":-0.9,"ey":1.2},{"x":0.33,"ex":0.02,"y":-1.4,"ey":1.2},{"x":0.38,"ex":0.02,"y":-2.3,"ey":1.5},{"x":0.42,"ex":0.02,"y":-1.3,"ey":1.5},{"x":0.45,"ex":0.02,"y":-0.9,"ey":1.6},{"x":0.5,"ex":0.02,"y":-1.8,"ey":1.8},{"x":0.56,"ex":0.03,"y":-1.2,"ey":1.8},{"x":0.63,"ex":0.03,"y":-1.5,"ey":2.0},{"x":0.7,"ex":0.03,"y":-2.2,"ey":2.0},{"x":0.78,"ex":0.03,"y":-0.4,"ey":2.2},{"x":0.88,"ex":0.04,"y":-1.6,"ey":2.2},{"x":1.03,"ex":0.04,"y":-0.3,"ey":2.5},{"x":1.12,"ex":0.04,"y":-1.2,"ey":2.5},{"x":1.25,"ex":0.05,"y":-1.8,"ey":2.5}
],
"br": [
{"x":-0.177,"ex":0.01,"y":-0.035,"ey":0.005},{"x":-0.125,"ex":0.01,"y":-0.016,"ey":0.005},{"x":-0.047,"ex":0.01,"y":-0.06,"ey":0.008},{"x":-0.02,"ex":0.01,"y":-0.025,"ey":0.005},{"x":0.017,"ex":0.01,"y":-0.035,"ey":0.005},{"x":0.05,"ex":0.01,"y":-0.044,"ey":0.006},{"x":0.1,"ex":0.015,"y":-0.053,"ey":0.008},{"x":0.135,"ex":0.01,"y":-0.067,"ey":0.008},{"x":0.19,"ex":0.015,"y":-0.053,"ey":0.008},{"x":0.253,"ex":0.01,"y":-0.104,"ey":0.008},{"x":0.217,"ex":0.01,"y":-0.025,"ey":0.006},{"x":0.29,"ex":0.01,"y":-0.007,"ey":0.006},{"x":0.335,"ex":0.015,"y":-0.044,"ey":0.008},{"x":0.38,"ex":0.015,"y":-0.025,"ey":0.008},{"x":0.406,"ex":0.015,"y":-0.062,"ey":0.01},{"x":0.43,"ex":0.02,"y":-0.131,"ey":0.012},{"x":0.477,"ex":0.015,"y":-0.035,"ey":0.01},{"x":0.49,"ex":0.02,"y":-0.117,"ey":0.012},{"x":0.524,"ex":0.02,"y":-0.145,"ey":0.015},{"x":0.548,"ex":0.02,"y":-0.117,"ey":0.015},{"x":0.548,"ex":0.02,"y":-0.173,"ey":0.015},{"x":0.567,"ex":0.015,"y":-0.21,"ey":0.015},{"x":0.595,"ex":0.015,"y":-0.016,"ey":0.01},{"x":0.63,"ex":0.015,"y":-0.007,"ey":0.01},{"x":0.666,"ex":0.02,"y":-0.145,"ey":0.015},{"x":0.713,"ex":0.02,"y":-0.053,"ey":0.015},{"x":0.748,"ex":0.015,"y":0.011,"ey":0.012},{"x":0.772,"ex":0.02,"y":0.057,"ey":0.02},{"x":0.796,"ex":0.02,"y":-0.011,"ey":0.015},{"x":0.82,"ex":0.03,"y":0.03,"ey":0.02},{"x":0.76,"ex":0.02,"y":-0.214,"ey":0.02},{"x":0.784,"ex":0.03,"y":-0.113,"ey":0.02},{"x":0.808,"ex":0.03,"y":-0.164,"ey":0.025},{"x":0.83,"ex":0.03,"y":-0.27,"ey":0.025},{"x":0.855,"ex":0.03,"y":-0.173,"ey":0.02},{"x":0.866,"ex":0.03,"y":-0.223,"ey":0.025},{"x":0.878,"ex":0.03,"y":-0.26,"ey":0.03},{"x":0.937,"ex":0.03,"y":-0.265,"ey":0.03},{"x":0.95,"ex":0.03,"y":-0.306,"ey":0.03},{"x":0.985,"ex":0.03,"y":-0.306,"ey":0.03},{"x":1.008,"ex":0.03,"y":-0.251,"ey":0.03},{"x":0.973,"ex":0.03,"y":-0.044,"ey":0.03},{"x":1.0,"ex":0.03,"y":-0.108,"ey":0.03},{"x":1.08,"ex":0.03,"y":0.0,"ey":0.02},{"x":1.09,"ex":0.03,"y":-0.136,"ey":0.03},{"x":1.1,"ex":0.03,"y":-0.283,"ey":0.03},{"x":1.114,"ex":0.04,"y":-0.182,"ey":0.03},{"x":1.162,"ex":0.04,"y":-0.127,"ey":0.03},{"x":1.21,"ex":0.03,"y":-0.173,"ey":0.03},{"x":1.256,"ex":0.05,"y":0.113,"ey":0.04},{"x":1.256,"ex":0.05,"y":0.076,"ey":0.04},{"x":1.3,"ex":0.04,"y":-0.025,"ey":0.03},{"x":1.327,"ex":0.04,"y":0.048,"ey":0.04},{"x":1.35,"ex":0.05,"y":-0.099,"ey":0.04},{"x":1.374,"ex":0.05,"y":-0.164,"ey":0.04},{"x":1.433,"ex":0.04,"y":0.02,"ey":0.03},{"x":1.47,"ex":0.04,"y":0.076,"ey":0.04},{"x":1.47,"ex":0.04,"y":0.039,"ey":0.04},{"x":1.53,"ex":0.05,"y":0.108,"ey":0.05},{"x":1.575,"ex":0.05,"y":0.108,"ey":0.05},{"x":1.587,"ex":0.06,"y":0.011,"ey":0.04},{"x":1.68,"ex":0.06,"y":0.081,"ey":0.05},{"x":1.73,"ex":0.06,"y":0.159,"ey":0.06},{"x":1.776,"ex":0.08,"y":0.232,"ey":0.06},{"x":1.79,"ex":0.08,"y":-0.012,"ey":0.06},{"x":1.79,"ex":0.08,"y":-0.03,"ey":0.06},{"x":1.79,"ex":0.08,"y":-0.044,"ey":0.08},{"x":1.835,"ex":0.08,"y":0.325,"ey":0.07},{"x":1.976,"ex":0.1,"y":0.127,"ey":0.08},
{"x":0.2,"ex":0.01,"y":-0.04,"ey":0.006},{"x":0.23,"ex":0.01,"y":-0.06,"ey":0.006},{"x":0.26,"ex":0.01,"y":-0.03,"ey":0.006},{"x":0.3,"ex":0.01,"y":-0.05,"ey":0.008},{"x":0.32,"ex":0.01,"y":-0.02,"ey":0.008},{"x":0.36,"ex":0.015,"y":-0.06,"ey":0.008},{"x":0.4,"ex":0.015,"y":-0.04,"ey":0.01},{"x":0.44,"ex":0.015,"y":-0.07,"ey":0.01},{"x":0.46,"ex":0.015,"y":-0.05,"ey":0.01},{"x":0.52,"ex":0.02,"y":-0.06,"ey":0.012},{"x":0.56,"ex":0.02,"y":-0.08,"ey":0.012},{"x":0.6,"ex":0.02,"y":-0.06,"ey":0.015},{"x":0.68,"ex":0.02,"y":-0.06,"ey":0.015},{"x":0.72,"ex":0.02,"y":-0.1,"ey":0.015},{"x":0.75,"ex":0.02,"y":-0.07,"ey":0.015},{"x":0.8,"ex":0.02,"y":-0.12,"ey":0.02},{"x":0.92,"ex":0.03,"y":-0.05,"ey":0.02},{"x":0.96,"ex":0.03,"y":-0.12,"ey":0.025},{"x":1.05,"ex":0.03,"y":-0.09,"ey":0.03},{"x":1.07,"ex":0.03,"y":-0.01,"ey":0.03},{"x":1.1,"ex":0.03,"y":-0.11,"ey":0.03},{"x":1.13,"ex":0.03,"y":-0.05,"ey":0.03},{"x":1.2,"ex":0.03,"y":-0.13,"ey":0.03},{"x":1.24,"ex":0.04,"y":-0.03,"ey":0.03},{"x":1.28,"ex":0.04,"y":-0.09,"ey":0.03}
]
}
}
